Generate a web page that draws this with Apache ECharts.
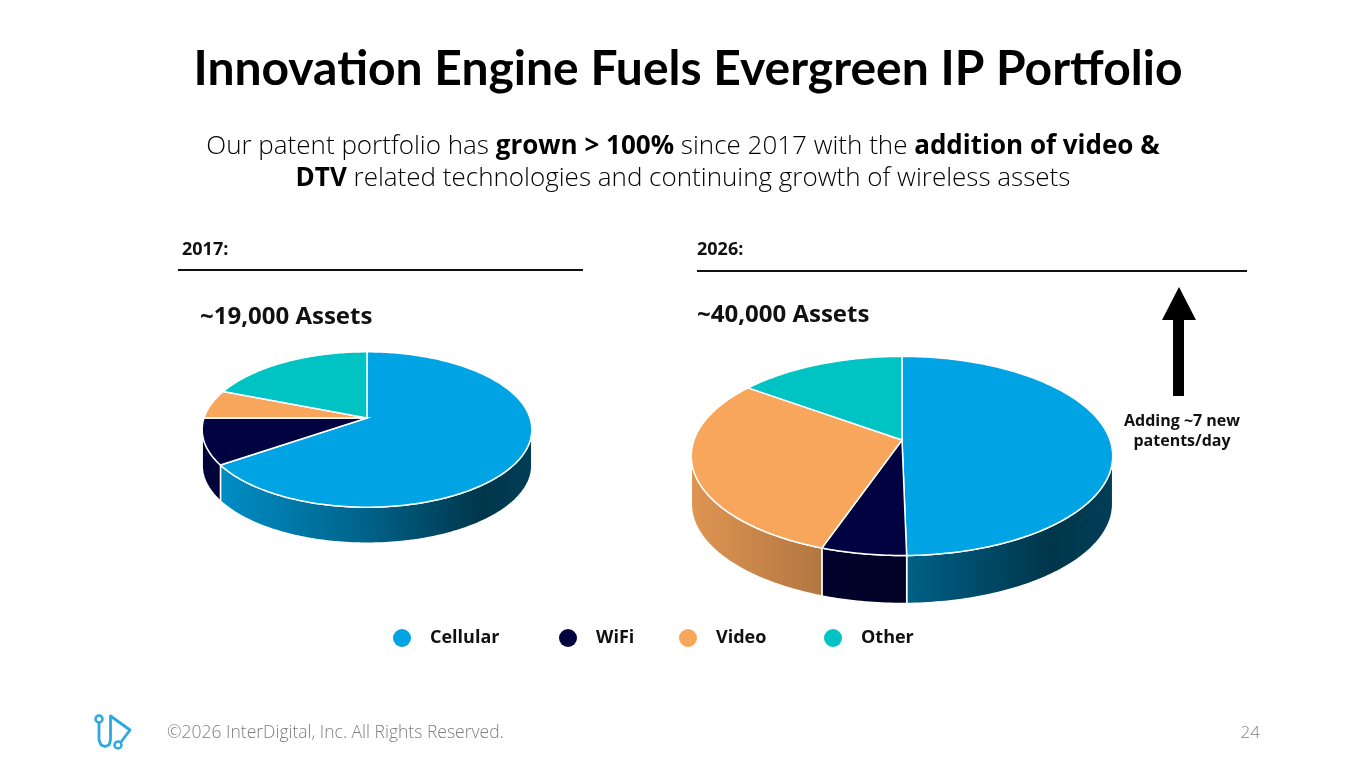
<!DOCTYPE html>
<html>
<head>
<meta charset="utf-8">
<title>Innovation Engine Fuels Evergreen IP Portfolio</title>
<script src="https://cdn.jsdelivr.net/npm/echarts@6/dist/echarts.min.js"></script>
<style>
  html, body { margin: 0; padding: 0; background: #fff; }
  #main { width: 1365px; height: 768px; }
</style>
</head>
<body>
<div id="main"></div>
<script>
// ---- data (share of portfolio, %) ----
var categories = ['Cellular', 'WiFi', 'Video', 'Other'];
var values2017 = [65.4, 9.6, 6.0, 19.0];
var values2026 = [49.7, 5.6, 29.7, 15.0];
var pieYears = ['2017:', '2026:'];
var pieTotals = ['~19,000 Assets', '~40,000 Assets'];

var colors = ['#00A3E4', '#00033F', '#F8A65B', '#00C3C3'];
var FONT = '"Open Sans", Lato, sans-serif';
var TITLE_FONT = 'Lato, "Open Sans", sans-serif';

// geometry of the two tilted pies (pixels)
var pies = [
    { cx: 367, cy: 418, rx: 163, ry: 76, p: 0.148, depth: 36 },
    { cx: 902, cy: 440, rx: 208, ry: 97, p: 0.16, depth: 48 }
];
var pieValues = [values2017, values2026];

function shade(hex, f) {
    var r = parseInt(hex.substr(1, 2), 16), g = parseInt(hex.substr(3, 2), 16), b = parseInt(hex.substr(5, 2), 16);
    return 'rgb(' + Math.round(r * f) + ',' + Math.round(g * f) + ',' + Math.round(b * f) + ')';
}

// perspective-ish projection of a point on the rim (theta clockwise from 12 o'clock)
function proj(pie, deg, dz) {
    var t = deg * Math.PI / 180;
    var u = Math.sin(t), v = Math.cos(t);
    var s = 1 / (1 + pie.p * v);
    return [pie.cx + pie.rx * u * s, pie.cy - pie.ry * v * s + dz];
}

function arc(pie, a0, a1, dz) {
    var pts = [];
    var n = Math.max(2, Math.ceil(Math.abs(a1 - a0)));
    for (var i = 0; i <= n; i++) {
        pts.push(proj(pie, a0 + (a1 - a0) * i / n, dz));
    }
    return pts;
}

function makeRender(catIndex) {
    return function(params, api) {
        var k = params.dataIndex;
        var pie = pies[k];
        var vals = pieValues[k];
        var total = 0, before = 0;
        for (var i = 0; i < vals.length; i++) {
            total += vals[i];
            if (i < catIndex) before += vals[i];
        }
        var a0 = before / total * 360;
        var a1 = (before + api.value(0)) / total * 360;
        var base = colors[catIndex];
        var children = [];

        // visible part of the side wall
        var sil = Math.acos(-pie.p) * 180 / Math.PI;
        var s0 = Math.max(a0, sil), s1 = Math.min(a1, 360 - sil);
        if (s1 > s0) {
            var top = arc(pie, s0, s1, 0);
            var bottom = arc(pie, s1, s0, pie.depth);
            var halfW = pie.rx / Math.sqrt(1 - pie.p * pie.p);
            var grad = new echarts.graphic.LinearGradient(pie.cx - halfW, 0, pie.cx + halfW, 0, [
                { offset: 0, color: shade(base, 0.9) },
                { offset: 0.5, color: shade(base, 0.6) },
                { offset: 0.85, color: shade(base, 0.33) },
                { offset: 1, color: shade(base, 0.38) }
            ], true);
            children.push({
                type: 'polygon',
                z2: 1,
                shape: { points: top.concat(bottom) },
                style: { fill: grad, stroke: '#fff', lineWidth: 1.5 }
            });
        }
        // top face
        children.push({
            type: 'polygon',
            z2: 10,
            shape: { points: [[pie.cx, pie.cy]].concat(arc(pie, a0, a1, 0)) },
            style: { fill: base, stroke: '#fff', lineWidth: 1.5 }
        });
        return { type: 'group', children: children };
    };
}

var series = categories.map(function(name, i) {
    return {
        name: name,
        type: 'custom',
        coordinateSystem: 'none',
        itemStyle: { color: colors[i] },
        renderItem: makeRender(i),
        data: [[values2017[i]], [values2026[i]]],
        silent: true
    };
});

var legendLefts = [388, 554, 674, 819];
var legends = categories.map(function(name, i) {
    return {
        data: [name],
        left: legendLefts[i],
        top: 624,
        icon: 'circle',
        itemWidth: 46,
        itemHeight: 18,
        selectedMode: false,
        textStyle: { fontFamily: FONT, fontWeight: 'bold', fontSize: 18, color: '#111' }
    };
});

var sub = { fontFamily: FONT, fontSize: 26, fontWeight: 300, color: '#222' };
var subB = { fontFamily: FONT, fontSize: 26, fontWeight: 'bold', color: '#111' };

var graphics = [
    { type: 'text', x: 688, y: 70,
      style: { text: 'Innovation Engine Fuels Evergreen IP Portfolio', fontFamily: TITLE_FONT, fontSize: 48, fontWeight: 'bold', fill: '#000',
               align: 'center', verticalAlign: 'middle' } },
    { type: 'text', x: 683, y: 147,
      style: { text: '{n|Our patent portfolio has }{b|grown > 100%}{n| since 2017 with the }{b|addition of video &}',
               align: 'center', verticalAlign: 'middle', rich: { n: sub, b: subB } } },
    { type: 'text', x: 683, y: 179,
      style: { text: '{b|DTV}{n| related technologies and continuing growth of wireless assets}',
               align: 'center', verticalAlign: 'middle', rich: { n: sub, b: subB } } },
    { type: 'text', x: 182, y: 250, style: { text: pieYears[0], fontFamily: FONT, fontSize: 18, fontWeight: 'bold', fill: '#111', verticalAlign: 'middle' } },
    { type: 'text', x: 697, y: 250, style: { text: pieYears[1], fontFamily: FONT, fontSize: 18, fontWeight: 'bold', fill: '#111', verticalAlign: 'middle' } },
    { type: 'line', shape: { x1: 178, y1: 270, x2: 583, y2: 270 }, style: { stroke: '#111', lineWidth: 2 } },
    { type: 'line', shape: { x1: 697, y1: 271, x2: 1247, y2: 271 }, style: { stroke: '#111', lineWidth: 2 } },
    { type: 'text', x: 200, y: 317, style: { text: pieTotals[0], fontFamily: FONT, fontSize: 24, fontWeight: 'bold', fill: '#111', verticalAlign: 'middle' } },
    { type: 'text', x: 697, y: 315, style: { text: pieTotals[1], fontFamily: FONT, fontSize: 24, fontWeight: 'bold', fill: '#111', verticalAlign: 'middle' } },
    // growth arrow
    { type: 'polygon', shape: { points: [[1179, 287], [1196, 320], [1184, 320], [1184, 396], [1173, 396], [1173, 320], [1162, 320]] },
      style: { fill: '#000' } },
    { type: 'text', x: 1182, y: 431,
      style: { text: 'Adding ~7 new\npatents/day', fontFamily: FONT, fontSize: 16, fontWeight: 'bold', fill: '#111',
               align: 'center', verticalAlign: 'middle', lineHeight: 20 } },
    // footer
    { type: 'circle', shape: { cx: 99, cy: 719, r: 3.5 }, style: { fill: 'none', stroke: '#2EA8E0', lineWidth: 2.5 } },
    { type: 'circle', shape: { cx: 118, cy: 745, r: 3.5 }, style: { fill: 'none', stroke: '#2EA8E0', lineWidth: 2.5 } },
    { type: 'polyline', shape: { points: [[99, 723], [99, 740], [101, 745], [105, 746.5], [109, 745], [110.5, 740], [110.5, 716], [130, 730], [121, 742]] },
      style: { fill: 'none', stroke: '#2EA8E0', lineWidth: 2.8, lineJoin: 'round', lineCap: 'round' } },
    { type: 'text', x: 167, y: 733,
      style: { text: '\u00A92026 InterDigital, Inc. All Rights Reserved.', fontFamily: FONT, fontSize: 17.5, fontWeight: 300, fill: '#7f7f7f', verticalAlign: 'middle' } },
    { type: 'text', x: 1260, y: 733,
      style: { text: '24', fontFamily: FONT, fontSize: 17, fontWeight: 300, fill: '#7f7f7f', align: 'right', verticalAlign: 'middle' } }
];

var chart = echarts.init(document.getElementById('main'));
var option = {
    backgroundColor: '#fff',
    animation: false,
    legend: legends,
    graphic: graphics,
    series: series
};
chart.setOption(option);
window.addEventListener('resize', function() {
    chart.resize();
});
</script>
</body>
</html>
